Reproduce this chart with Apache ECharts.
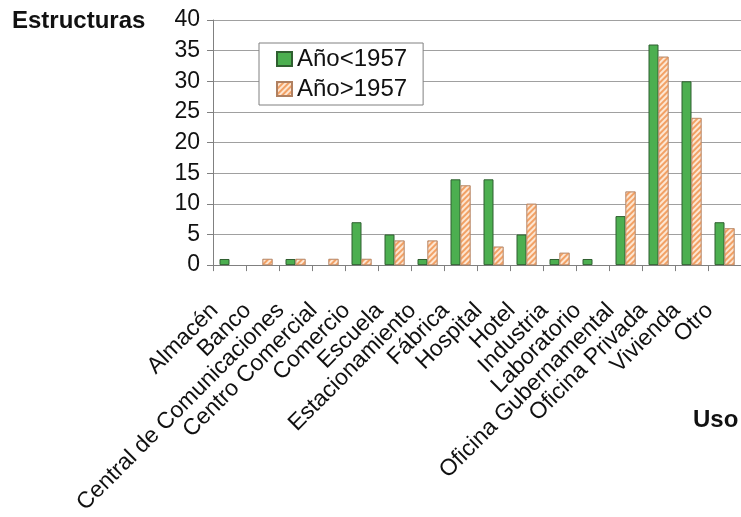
<!DOCTYPE html>
<html>
<head>
<meta charset="utf-8">
<script src="https://cdn.jsdelivr.net/npm/echarts@6/dist/echarts.min.js"></script>
<style>
html,body{margin:0;padding:0;background:#fff;}
#chart{width:741px;height:517px;}
</style>
</head>
<body>
<div id="chart"></div>
<script>
const categories = ['Almacén','Banco','Central de Comunicaciones','Centro Comercial','Comercio','Escuela','Estacionamiento','Fábrica','Hospital','Hotel','Industria','Laboratorio','Oficina Gubernamental','Oficina Privada','Vivienda','Otro'];
const before1957 = [1,0,1,0,7,5,1,14,14,5,1,1,8,36,30,7];
const after1957 = [0,1,1,1,1,4,4,13,3,10,2,0,12,34,24,6];
const yTicks = {min:0, max:40, interval:5};
const seriesNames = ['Año<1957','Año>1957'];
const yTitle = 'Estructuras';
const xTitle = 'Uso';

// zero values are drawn as no bar (as in the reference)
const asBars = arr => arr.map(v => v === 0 ? '-' : v);

const chart = echarts.init(document.getElementById('chart'), null, {renderer:'canvas'});
const font = 'Liberation Sans, Arial, Helvetica, sans-serif';
chart.setOption({
  animation:false,
  backgroundColor:'#fff',
  textStyle:{fontFamily:font},
  title:[
    {text:yTitle, left:12, top:9, padding:0, textStyle:{fontSize:24, fontWeight:'bold', color:'#111', fontFamily:font}},
    {text:xTitle, left:693, top:408, padding:0, textStyle:{fontSize:24, fontWeight:'bold', color:'#111', fontFamily:font}}
  ],
  legend:{
    orient:'vertical', left:259, top:43,
    itemWidth:15, itemHeight:14, itemGap:6,
    padding:[4,16,4,17],
    borderColor:'#808080', borderWidth:1, backgroundColor:'#fff',
    icon:'rect',
    textStyle:{fontSize:24, color:'#111', fontFamily:font},
    data:seriesNames
  },
  grid:{left:213, top:20, width:533, bottom:246, containLabel:false},
  xAxis:{
    type:'category', data:categories, boundaryGap:true,
    axisLine:{lineStyle:{color:'#808080', width:1}},
    axisTick:{show:true, length:6, lineStyle:{color:'#808080'}},
    axisLabel:{interval:0, rotate:45, fontSize:23, color:'#111', margin:27, padding:[0,21,0,0], fontFamily:font}
  },
  yAxis:{
    type:'value', min:yTicks.min, max:yTicks.max, interval:yTicks.interval,
    axisLine:{show:true, lineStyle:{color:'#808080', width:1}},
    axisTick:{show:true, length:6, lineStyle:{color:'#808080'}},
    axisLabel:{fontSize:23, color:'#111', margin:13, fontFamily:font},
    splitLine:{lineStyle:{color:'#a0a0a0', width:1}}
  },
  series:[
    {name:seriesNames[0], type:'bar', data:asBars(before1957), barWidth:10, barGap:'0%',
     itemStyle:{color:'#4caf50', borderColor:'#2f5f30', borderWidth:1}},
    {name:seriesNames[1], type:'bar', data:asBars(after1957), barWidth:10, barGap:'0%',
     itemStyle:{color:'#fde6d2', borderColor:'#b08060', borderWidth:0.6,
       decal:{symbol:'rect', symbolSize:1, dashArrayX:[1,0], dashArrayY:[2,2], rotation:-Math.PI/4, color:'#f2a165'}}}
  ]
});
</script>
</body>
</html>
